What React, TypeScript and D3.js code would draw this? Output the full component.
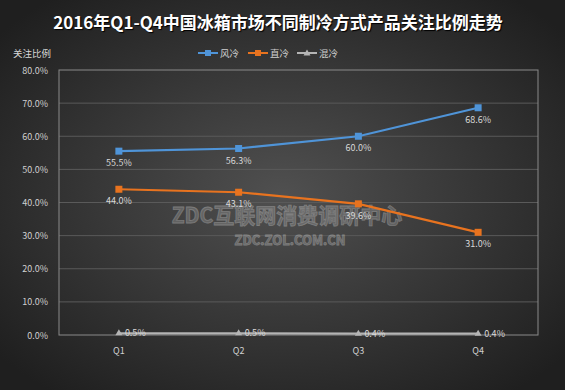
import React from "react";
import * as d3 from "d3";

const quarters = ["Q1", "Q2", "Q3", "Q4"];
const fengLeng = [55.5, 56.3, 60.0, 68.6];
const zhiLeng = [44.0, 43.1, 39.6, 31.0];
const hunLeng = [0.5, 0.5, 0.4, 0.4];
const yTicks = [0, 10, 20, 30, 40, 50, 60, 70, 80];
const seriesNames = ["风冷", "直冷", "混冷"];

const W = 565, H = 390;
const left = 59, right = 538, top = 70, bottom = 335;
const FONT = "'Noto Sans CJK SC', 'Microsoft YaHei', sans-serif";

export default function App() {
  const x = d3.scalePoint<string>().domain(quarters).range([left, right]).padding(0.5);
  const y = d3.scaleLinear().domain([0, 80]).range([bottom, top]);
  const line = d3.line<number>().x((_, i) => x(quarters[i])!).y((d) => y(d));

  const series = [
    { name: seriesNames[0], data: fengLeng, color: "#4f94d8", marker: "square", labelDy: 15, labelDx: 0, anchor: "middle" },
    { name: seriesNames[1], data: zhiLeng, color: "#e8731f", marker: "square", labelDy: 15, labelDx: 0, anchor: "middle" },
    { name: seriesNames[2], data: hunLeng, color: "#b4b4b4", marker: "triangle", labelDy: 3, labelDx: 6, anchor: "start" },
  ];

  const legendX = [198, 248, 297];

  return (
    <svg width={W} height={H} style={{ position: "absolute", left: 0, top: 0, display: "block" }}>
      <defs>
        <radialGradient id="bg" cx="50%" cy="50%" r="65%">
          <stop offset="0%" stopColor="#505050" />
          <stop offset="100%" stopColor="#1f1f1f" />
        </radialGradient>
      </defs>
      <rect x={0} y={0} width={W} height={H} fill="url(#bg)" />
      <text x={278} y={29} textAnchor="middle" fill="#ffffff" fontFamily={FONT} fontWeight="bold" fontSize={17}
        style={{ textShadow: "1px 1px 1px #000" }}>
        2016年Q1-Q4中国冰箱市场不同制冷方式产品关注比例走势
      </text>
      <text x={13} y={57} fill="#d8d8d8" fontFamily={FONT} fontSize={9.5}>关注比例</text>

      {series.map((s, i) => (
        <g key={s.name} transform={`translate(${legendX[i]},53)`}>
          <line x1={0} x2={20} y1={0} y2={0} stroke={s.color} strokeWidth={2} />
          {s.marker === "square" ? (
            <rect x={7} y={-3} width={6} height={6} fill={s.color} />
          ) : (
            <path d="M10,-3.5L13.5,2.5L6.5,2.5Z" fill={s.color} />
          )}
          <text x={22} y={3.5} fill="#cfcfcf" fontFamily={FONT} fontSize={9.5}>{s.name}</text>
        </g>
      ))}

      {yTicks.map((t) => (
        <g key={t}>
          {t > 0 && t < 80 && (
            <line x1={left} x2={right} y1={y(t)} y2={y(t)} stroke="#5a5a5a" strokeWidth={1} />
          )}
          <text x={48} y={y(t) + 3.5} textAnchor="end" fill="#d0d0d0" fontFamily={FONT} fontSize={9}>
            {t.toFixed(1)}%
          </text>
        </g>
      ))}
      <rect x={left} y={top} width={right - left} height={bottom - top} fill="none" stroke="#8a8a8a" strokeWidth={1} />

      {quarters.map((q) => (
        <text key={q} x={x(q)!} y={354} textAnchor="middle" fill="#d0d0d0" fontFamily={FONT} fontSize={9}>{q}</text>
      ))}

      <g opacity={0.35} fontFamily={FONT} fontWeight="bold" fill="#a0a0a0" stroke="#e0e0e0" strokeWidth={0.8}>
        <text x={287} y={223} textAnchor="middle" fontSize={21}>ZDC互联网消费调研中心</text>
        <text x={290} y={245} textAnchor="middle" fontSize={13}>ZDC.ZOL.COM.CN</text>
      </g>

      {series.map((s) => (
        <g key={s.name}>
          <path d={line(s.data)!} fill="none" stroke={s.color} strokeWidth={2.2} />
          {s.data.map((v, i) => {
            const cx = x(quarters[i])!, cy = y(v);
            return s.marker === "square" ? (
              <rect key={i} x={cx - 3.5} y={cy - 3.5} width={7} height={7} fill={s.color} />
            ) : (
              <path key={i} d={`M${cx},${cy - 4}L${cx + 3.5},${cy + 2}L${cx - 3.5},${cy + 2}Z`} fill={s.color} />
            );
          })}
          {s.data.map((v, i) => (
            <text key={"l" + i} x={x(quarters[i])! + s.labelDx} y={y(v) + s.labelDy} textAnchor={s.anchor as any}
              fill="#d8d8d8" fontFamily={FONT} fontSize={9}>
              {v.toFixed(1)}%
            </text>
          ))}
        </g>
      ))}
    </svg>
  );
}
